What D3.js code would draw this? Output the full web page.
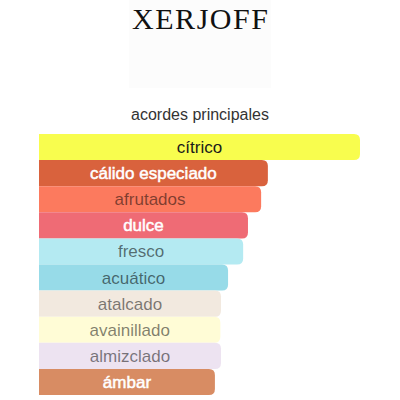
<!DOCTYPE html>
<html>
<head>
<meta charset="utf-8">
<script src="https://cdn.jsdelivr.net/npm/d3@7"></script>
<style>
  html, body { margin: 0; padding: 0; background: #fff; }
  svg { display: block; }
</style>
</head>
<body>
<svg id="chart"></svg>
<script>
// accords and their strength (percent of the strongest)
const accords = ["cítrico", "cálido especiado", "afrutados", "dulce", "fresco",
                 "acuático", "atalcado", "avainillado", "almizclado", "ámbar"];
const strength = [100, 71.3, 69.2, 65.1, 63.6, 58.9, 56.7, 56.5, 56.7, 54.8];

const barColors = ["#f8fd4e", "#d9623d", "#fc7a5e", "#ef6b75", "#b4eaf2",
                   "#97dbe8", "#f2e9df", "#fffcd6", "#ede3f1", "#d88c63"];
const textColors = ["#1a1a1a", "#ffffff", "rgba(0,0,0,0.5)", "#ffffff", "rgba(0,0,0,0.55)",
                    "rgba(0,0,0,0.55)", "rgba(0,0,0,0.5)", "rgba(0,0,0,0.5)", "rgba(0,0,0,0.5)", "#ffffff"];

const width = 400, height = 400;
const margin = { top: 134, left: 39, right: 40, bottom: 5 };

const svg = d3.select("#chart")
              .attr("width", width)
              .attr("height", height);

// logo box + brand name
svg.append("rect")
   .attr("x", 129).attr("y", 0)
   .attr("width", 142).attr("height", 88)
   .attr("fill", "#fcfcfc");

svg.append("text")
   .attr("x", 132)
   .attr("y", 29)
   .attr("textLength", 136)
   .attr("lengthAdjust", "spacing")
   .attr("fill", "#111")
   .style("font-family", "'Liberation Serif', 'DejaVu Serif', serif")
   .style("font-size", "30px")
   .style("font-weight", "300")
   .text("XERJOFF");

svg.append("text")
   .attr("x", 200)
   .attr("y", 120)
   .attr("text-anchor", "middle")
   .attr("fill", "#333")
   .style("font-family", "'Liberation Sans', Arial, sans-serif")
   .style("font-size", "16px")
   .text("acordes principales");

// scales
const x = d3.scaleLinear()
            .domain([0, 100])
            .range([margin.left, width - margin.right]);

const y = d3.scaleBand()
            .domain(accords)
            .range([margin.top, margin.top + 26.1 * accords.length])
            .padding(0);

// bar shape: flat on the left, rounded on the right
function barPath(x0, y0, w, h, r) {
    return `M${x0},${y0}H${x0 + w - r}Q${x0 + w},${y0} ${x0 + w},${y0 + r}` +
           `V${y0 + h - r}Q${x0 + w},${y0 + h} ${x0 + w - r},${y0 + h}H${x0}Z`;
}

const rows = svg.selectAll(".accord")
                .data(accords)
                .enter()
                .append("g")
                .attr("class", "accord");

rows.append("path")
    .attr("d", (d, i) => barPath(x(0), y(d), x(strength[i]) - x(0), y.bandwidth(), 6))
    .attr("fill", (d, i) => barColors[i]);

rows.append("text")
    .attr("x", (d, i) => (x(0) + x(strength[i])) / 2)
    .attr("y", d => y(d) + y.bandwidth() / 2 + 6)
    .attr("text-anchor", "middle")
    .attr("fill", (d, i) => textColors[i])
    .attr("stroke", (d, i) => textColors[i] === "#ffffff" ? "#ffffff" : "none")
    .attr("stroke-width", 0.5)
    .style("font-family", "'Liberation Sans', Arial, sans-serif")
    .style("font-size", "17px")
    .text(d => d);
</script>
</body>
</html>
